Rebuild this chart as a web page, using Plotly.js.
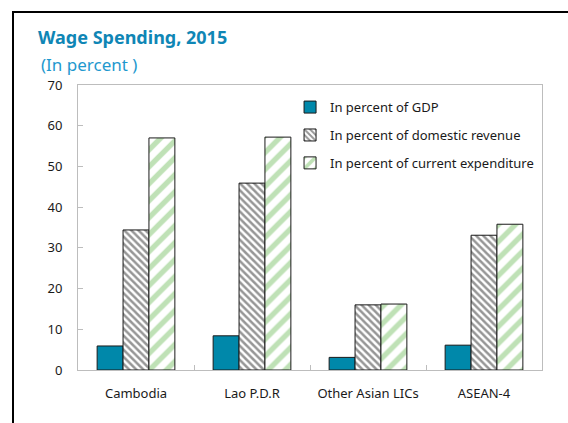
<!DOCTYPE html>
<html>
<head>
<meta charset="utf-8">
<script src="https://cdn.plot.ly/plotly-3.0.1.min.js"></script>
<style>
  html, body { margin: 0; padding: 0; background: #ffffff; overflow: hidden; }
  #wrap { position: relative; width: 568px; height: 423px; overflow: hidden; }
  #chart { width: 568px; height: 423px; }
  #frame { position: absolute; left: 12px; top: 11px; width: 600px; height: 500px;
           border-left: 2px solid #000; border-top: 2px solid #000; pointer-events: none; }
</style>
</head>
<body>
<div id="wrap">
  <div id="chart"></div>
  <div id="frame"></div>
</div>
<script>
const categories = ["Cambodia", "Lao P.D.R", "Other Asian LICs", "ASEAN-4"];
const seriesNames = ["In percent of GDP", "In percent of domestic revenue", "In percent of current expenditure"];
const pctGDP = [5.9, 8.4, 3.1, 6.1];
const pctDomesticRevenue = [34.4, 45.9, 16.0, 33.1];
const pctCurrentExpenditure = [57.0, 57.2, 16.2, 35.8];
const yTicks = [0, 10, 20, 30, 40, 50, 60, 70];

const font = "'Noto Sans', 'Open Sans', sans-serif";

const traces = [
  {
    type: "bar", name: seriesNames[0], x: categories, y: pctGDP,
    legendgroup: "a",
    marker: { color: "#0088AA", line: { color: "#1a1a1a", width: 1 } }
  },
  {
    type: "bar", name: seriesNames[1], x: categories, y: pctDomesticRevenue,
    legendgroup: "b",
    marker: {
      color: "#ffffff",
      line: { color: "#1a1a1a", width: 1 },
      pattern: { shape: "\\", fgcolor: "#2e2e2e", bgcolor: "#ffffff", size: 5, solidity: 0.5, fillmode: "overlay" }
    }
  },
  {
    type: "bar", name: seriesNames[2], x: categories, y: pctCurrentExpenditure,
    legendgroup: "c",
    marker: {
      color: "#ffffff",
      line: { color: "#1a1a1a", width: 1 },
      pattern: { shape: "/", fgcolor: "#7FC46E", bgcolor: "#ffffff", size: 12, solidity: 0.45, fillmode: "overlay" }
    }
  }
];

const layout = {
  width: 568, height: 423,
  margin: { l: 78, r: 26, t: 85, b: 53, pad: 0 },
  paper_bgcolor: "#ffffff", plot_bgcolor: "#ffffff",
  font: { family: font, size: 12, color: "#1a1a1a" },
  barmode: "group", bargap: 0.33, bargroupgap: 0,
  showlegend: true,
  legend: {
    x: 0.457, y: 0.975, xanchor: "left", yanchor: "top",
    bgcolor: "rgba(0,0,0,0)", borderwidth: 0,
    font: { family: font, size: 13, color: "#1a1a1a" },
    traceorder: "grouped", tracegroupgap: 8, itemwidth: 30
  },
  xaxis: {
    type: "category",
    showgrid: false, zeroline: false,
    showline: true, linecolor: "#bdbdbd", linewidth: 1, mirror: true,
    ticks: "inside", tickson: "boundaries", ticklen: 5, tickcolor: "#bdbdbd",
    ticklabelstandoff: 11,
    tickfont: { family: font, size: 13, color: "#1a1a1a" }
  },
  yaxis: {
    range: [0, 70], tickvals: yTicks,
    showgrid: false, zeroline: false,
    showline: true, linecolor: "#bdbdbd", linewidth: 1, mirror: true,
    ticks: "inside", ticklen: 5, tickcolor: "#bdbdbd",
    ticklabelstandoff: 12,
    tickfont: { family: font, size: 13, color: "#1a1a1a" }
  },
  annotations: [
    {
      text: "<b>Wage Spending, 2015</b>", xref: "paper", yref: "paper",
      x: -0.090, y: 1.168, xanchor: "left", yanchor: "middle", showarrow: false,
      font: { family: font, size: 18, color: "#0F86B5" }
    },
    {
      text: "(In percent )", xref: "paper", yref: "paper",
      x: -0.084, y: 1.072, xanchor: "left", yanchor: "middle", showarrow: false,
      font: { family: font, size: 17, color: "#1E98CE" }
    }
  ]
};

Plotly.newPlot("chart", traces, layout, { displayModeBar: false, staticPlot: true });
</script>
</body>
</html>
